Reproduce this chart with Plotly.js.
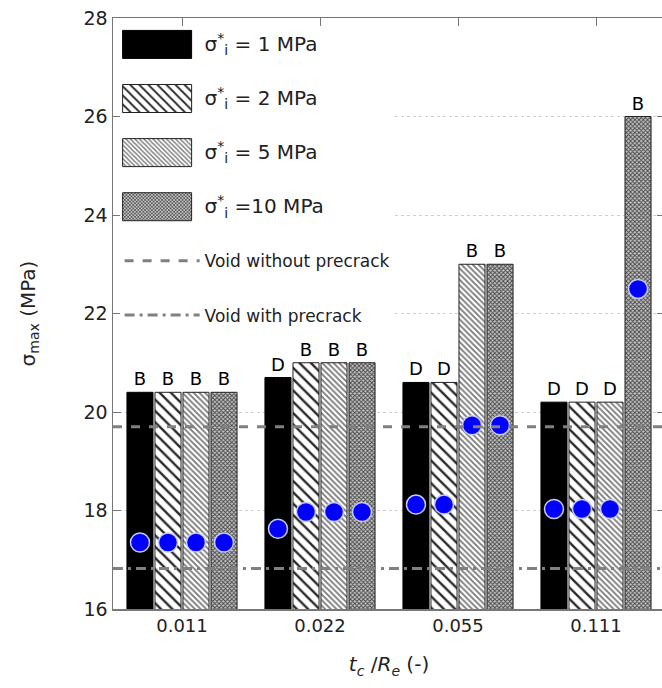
<!DOCTYPE html>
<html><head><meta charset="utf-8">
<script src="https://cdn.plot.ly/plotly-3.0.1.min.js"></script>
<style>html,body{margin:0;padding:0;overflow:hidden;background:#fff}</style>
</head><body><div id="chart" style="width:670px;height:688px"></div>
<script>
const categories = ['0.011', '0.022', '0.055', '0.111'];
const seriesNames = [
  '<span style="font-size:20px">σ<sup>*</sup><sub>i</sub> = 1 MPa</span>',
  '<span style="font-size:20px">σ<sup>*</sup><sub>i</sub> = 2 MPa</span>',
  '<span style="font-size:20px">σ<sup>*</sup><sub>i</sub> = 5 MPa</span>',
  '<span style="font-size:20px">σ<sup>*</sup><sub>i</sub> =10 MPa</span>'
];
const barValues1 = [20.4, 20.7, 20.6, 20.2];
const barValues2 = [20.4, 21.0, 20.6, 20.2];
const barValues3 = [20.4, 21.0, 23.0, 20.2];
const barValues4 = [20.4, 21.0, 23.0, 26.0];
const failureMode1 = ['B', 'D', 'D', 'D'];
const failureMode2 = ['B', 'B', 'D', 'D'];
const failureMode3 = ['B', 'B', 'B', 'D'];
const failureMode4 = ['B', 'B', 'B', 'B'];
const dotValues1 = [17.35, 17.63, 18.12, 18.03];
const dotValues2 = [17.35, 17.97, 18.12, 18.03];
const dotValues3 = [17.35, 17.97, 19.73, 18.03];
const dotValues4 = [17.35, 17.97, 19.73, 22.5];
const refLineNames = ['Void without precrack', 'Void with precrack'];
const refLineValues = [19.7, 16.82];

const barValues = [barValues1, barValues2, barValues3, barValues4];
const failureModes = [failureMode1, failureMode2, failureMode3, failureMode4];
const dotValues = [dotValues1, dotValues2, dotValues3, dotValues4];

const FONT = 'DejaVu Sans, Verdana, sans-serif';
const markerStyles = [
  {color: '#000000', line: {color: '#000', width: 1}},
  {color: '#ffffff', line: {color: '#222', width: 1},
   pattern: {shape: '\\', fgcolor: '#2a2a2a', bgcolor: '#fff', size: 8, solidity: 0.3, fillmode: 'replace'}},
  {color: '#ffffff', line: {color: '#222', width: 1},
   pattern: {shape: '\\', fgcolor: '#777', bgcolor: '#fff', size: 4, solidity: 0.45, fillmode: 'replace'}},
  {color: '#999', line: {color: '#222', width: 1},
   pattern: {shape: 'x', fgcolor: '#444', bgcolor: '#c4c4c4', size: 3, solidity: 0.5, fillmode: 'replace'}}
];

const traces = [];
for (let s = 0; s < 4; s++) {
  traces.push({
    type: 'bar', x: categories, y: barValues[s], name: seriesNames[s],
    offsetgroup: 'g' + s, legendgroup: 'g' + s, legendrank: s + 1,
    marker: markerStyles[s],
    text: failureModes[s], textposition: 'outside', cliponaxis: false,
    textfont: {family: FONT, size: 18, color: '#000'},
    hoverinfo: 'x+y'
  });
}
for (let s = 0; s < 4; s++) {
  traces.push({
    type: 'scatter', mode: 'markers', x: categories, y: dotValues[s],
    offsetgroup: 'g' + s, showlegend: false,
    marker: {color: '#0000ff', size: 19, line: {color: '#c8c8f0', width: 1.5}}
  });
}

const dashes = ['9px,9px', '10px,5px,3px,5px'];
const shapes = refLineValues.map((v, i) => ({
  type: 'line', xref: 'paper', x0: 0, x1: 1, yref: 'y', y0: v, y1: v,
  line: {color: '#808080', width: 3, dash: dashes[i]},
  layer: 'above', showlegend: true, name: refLineNames[i],
  legendgroup: 'r' + i, legendrank: 10 + i
}));

const layout = {
  width: 670, height: 688,
  margin: {l: 113, r: 5, t: 18, b: 79},
  paper_bgcolor: '#fff', plot_bgcolor: '#fff',
  font: {family: FONT, color: '#222'},
  barmode: 'group', bargap: 0.188, bargroupgap: 0.07,
  scattermode: 'group', scattergap: 0.188,
  showlegend: true,
  legend: {x: 0.012, y: 0.985, xanchor: 'left', yanchor: 'top',
    bgcolor: '#fff', borderwidth: 0, traceorder: 'grouped', tracegroupgap: 29,
    font: {family: FONT, size: 17, color: '#222'}, itemwidth: 75},
  xaxis: {
    type: 'category', showgrid: false, zeroline: false,
    showline: true, linecolor: '#777', linewidth: 1.5, mirror: 'ticks',
    ticks: 'inside', ticklen: 8, tickcolor: '#777',
    tickfont: {family: FONT, size: 18, color: '#222'},
    title: {text: '<i>t<sub>c</sub></i> /<i>R<sub>e</sub></i> (-)', font: {family: FONT, size: 20, color: '#222'}, standoff: 22}
  },
  yaxis: {
    range: [16, 28], dtick: 2, tick0: 16,
    showgrid: true, gridcolor: '#cfcfcf', griddash: 'dot', gridwidth: 1, zeroline: false,
    showline: true, linecolor: '#777', linewidth: 1.5, mirror: 'ticks',
    ticks: 'inside', ticklen: 8, tickcolor: '#777',
    tickfont: {family: FONT, size: 19, color: '#222'},
    title: {text: 'σ<sub>max</sub> (MPa)', font: {family: FONT, size: 20, color: '#222'}, standoff: 42}
  },
  shapes: shapes
};

function widenLegendSwatches(gd) {
  // enlarge the legend swatches of the bar series to the reference's wide boxes
  gd.querySelectorAll('.legend .traces .legendpoints path').forEach(p => {
    const d = p.getAttribute('d') || '';
    if (/^M6,6H-6V-6H6Z$/i.test(d.replace(/\s/g, ''))) {
      p.setAttribute('d', 'M29.5,14H-39.5V-14H29.5Z');
    }
  });
}

const gdEl = document.getElementById('chart');
Plotly.newPlot(gdEl, traces, layout, {displayModeBar: false, staticPlot: true}).then(gd => {
  widenLegendSwatches(gd);
  setTimeout(() => widenLegendSwatches(gd), 0);
});
gdEl.on && gdEl.on('plotly_afterplot', () => widenLegendSwatches(gdEl));
</script></body></html>
